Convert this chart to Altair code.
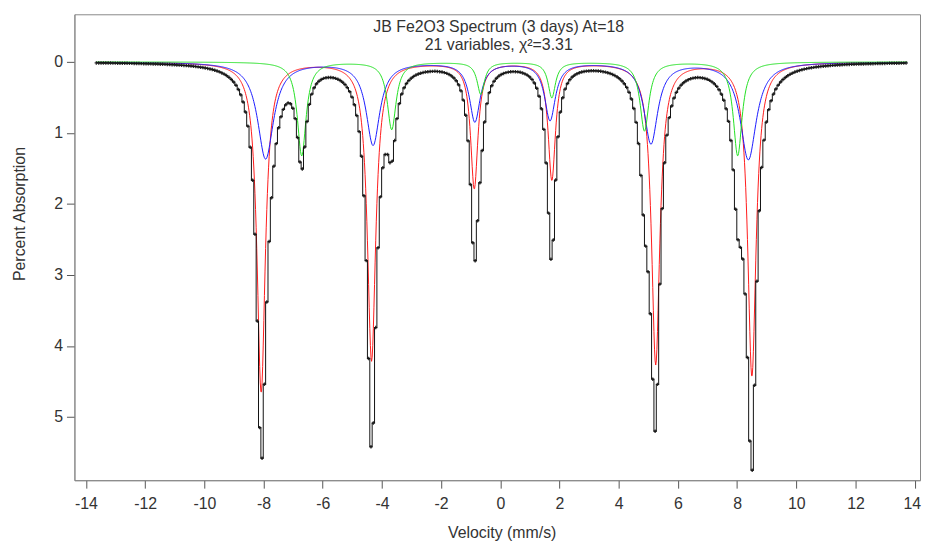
import numpy as np
import pandas as pd
import altair as alt

# ---- values ----
# Sextet line positions (mm/s), depths (% absorption) and half widths (mm/s)
red_pos = [-8.08, -4.35, -0.88, 1.74, 5.25, 8.50]
red_depth = [4.65, 4.20, 1.77, 1.65, 4.25, 4.42]
red_hw = [0.17, 0.17, 0.15, 0.15, 0.17, 0.17]

blue_pos = [-7.93, -4.30, -0.86, 1.68, 5.09, 8.38]
blue_depth = [1.36, 1.16, 0.83, 0.81, 1.14, 1.37]
blue_hw = [0.33, 0.28, 0.22, 0.22, 0.28, 0.33]

green_pos = [-6.71, -3.67, -0.66, 1.74, 4.87, 8.02]
green_depth = [1.32, 0.95, 0.45, 0.50, 0.97, 1.32]
green_hw = [0.18, 0.18, 0.15, 0.15, 0.18, 0.18]

# deepest measured point in each of the six main dips
data_min = [5.58, 5.42, 2.80, 2.78, 5.20, 5.75]

v_start, v_end = -13.65, 13.75
channel_step = 0.08

x_ticks = list(range(-14, 15, 2))
y_ticks = [0, 1, 2, 3, 4, 5]

title_1 = "JB Fe2O3 Spectrum (3 days) At=18"
title_2 = "21 variables, \u03c7\u00b2=3.31"


def sextet(v, pos, depth, hw):
    v = np.asarray(v)[:, None]
    return (np.array(depth) / (1.0 + ((v - np.array(pos)) / np.array(hw)) ** 2)).sum(axis=1)


# component curves
v_fine = np.round(np.arange(v_start, v_end + 1e-9, 0.02), 3)
comp_frames = []
for name, p, d, w in [("red", red_pos, red_depth, red_hw),
                      ("blue", blue_pos, blue_depth, blue_hw),
                      ("green", green_pos, green_depth, green_hw)]:
    comp_frames.append(pd.DataFrame({"v": v_fine, "a": sextet(v_fine, p, d, w), "comp": name}))
comp = pd.concat(comp_frames, ignore_index=True)

# measured spectrum channels
v_ch = np.round(np.arange(v_start, v_end + 1e-9, channel_step), 3)
idx = [int(np.argmin(np.abs(v_ch - c))) for c in red_pos]
others = sextet(v_ch, blue_pos, blue_depth, blue_hw) + sextet(v_ch, green_pos, green_depth, green_hw)
A = np.array([[1.0 / (1.0 + ((v_ch[i] - red_pos[j]) / red_hw[j]) ** 2) for j in range(6)] for i in idx])
b = np.array([data_min[k] - others[idx[k]] for k in range(6)])
red_in_data = np.linalg.solve(A, b)
meas = others + sextet(v_ch, red_pos, red_in_data, red_hw)
data = pd.DataFrame({"v": v_ch, "a": meas})

FONT = "Liberation Sans"
FS = 16
xs = alt.Scale(domain=[-14.39, 14.18], nice=False, zero=False)
ys = alt.Scale(domain=[-0.67, 5.89], nice=False, zero=False, reverse=True)

x_axis = alt.Axis(values=x_ticks, labelExpr="'' + datum.value", title="Velocity (mm/s)",
                  grid=False, tickSize=8, labelPadding=8, titleX=431, titleY=53,
                  titleBaseline="middle",
                  labelOffset={"condition": {"test": "datum.value == 14", "value": -3}, "value": 0})
y_axis = alt.Axis(values=y_ticks, labelExpr="'' + datum.value", title="Percent Absorption",
                  grid=False, tickSize=8, labelPadding=4, titleX=-55, titleY=201,
                  titleBaseline="middle", titleAlign="center")

comp_chart = alt.Chart(comp).mark_line(strokeWidth=1, clip=True, interpolate="linear").encode(
    x=alt.X("v:Q", scale=xs, axis=x_axis),
    y=alt.Y("a:Q", scale=ys, axis=y_axis),
    detail="comp:N",
    color=alt.Color("comp:N", scale=alt.Scale(domain=["red", "blue", "green"],
                                              range=["#ff1a1a", "#1a1aff", "#22e022"]), legend=None),
)

data_line = alt.Chart(data).mark_line(color="#111111", strokeWidth=1, interpolate="step", clip=True).encode(
    x=alt.X("v:Q", scale=xs), y=alt.Y("a:Q", scale=ys)
)
data_pts = alt.Chart(data).mark_point(shape="cross", size=12, filled=True, color="#111111",
                                      strokeWidth=0, opacity=0.85, clip=True).encode(
    x=alt.X("v:Q", scale=xs), y=alt.Y("a:Q", scale=ys)
)

t1 = alt.Chart(pd.DataFrame({"t": [title_1]})).mark_text(
    font=FONT, fontSize=FS, color="#333333", align="center", baseline="middle").encode(
    text="t:N", x=alt.value(428), y=alt.value(13))
t2 = alt.Chart(pd.DataFrame({"t": [title_2]})).mark_text(
    font=FONT, fontSize=FS, color="#333333", align="center", baseline="middle").encode(
    text="t:N", x=alt.value(428), y=alt.value(31))

chart = alt.layer(comp_chart, data_line, data_pts, t1, t2).properties(
    width=853, height=470,
    autosize=alt.AutoSizeParams(type="none"),
    padding={"left": 67, "top": 4, "right": 2, "bottom": 62},
    background="white",
).configure_view(stroke="#888888", strokeWidth=1).configure_axis(
    labelFont=FONT, titleFont=FONT, labelFontSize=FS, titleFontSize=FS,
    labelColor="#333333", titleColor="#333333", titleFontWeight="normal",
    domainColor="#888888", tickColor="#555555", domainWidth=1, tickWidth=1,
)

chart.save("out.html", embed_options={"renderer": "svg", "actions": False})
